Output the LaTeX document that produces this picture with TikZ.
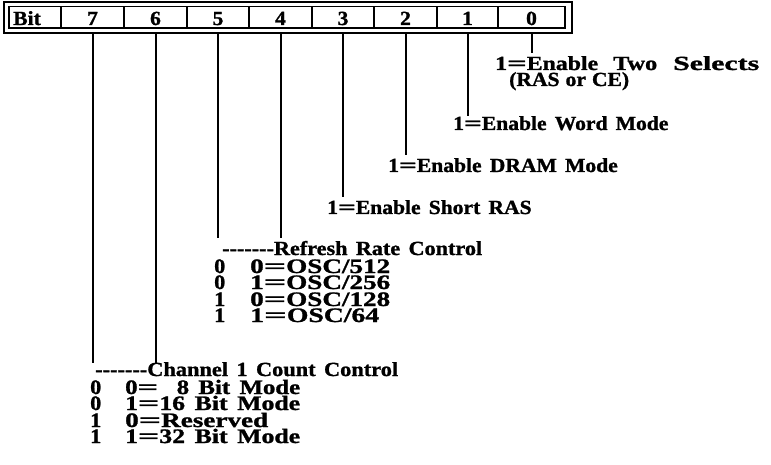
\documentclass[tikz,border=0pt]{standalone}
\usepackage{fontspec}
\usepackage{graphicx}
\setmainfont{Liberation Serif}[FakeStretch=1.08, WordSpace=1.5, Ligatures=TeXOff, FakeBold=1.2]
\newcommand\eqs{\scalebox{1.45}[1]{=}}
\newcommand\wid[2]{\resizebox{#1pt}{\height}{#2}}
\begin{document}
\begin{tikzpicture}[x=1pt,y=-1pt,
  txt/.style={anchor=base west, inner sep=0, font=\fontsize{20}{20}\selectfont\bfseries},
  row/.style={anchor=base west, inner sep=0, font=\fontsize{20.5}{20.5}\selectfont\bfseries},
  cell/.style={draw, line width=1.2, inner sep=0, outer sep=0, anchor=north west,
    minimum height=21.5, text height=18.5, text depth=3,
    font=\fontsize{20}{20}\selectfont\bfseries},
  lead/.style={line width=2}]
\useasboundingbox (0,0) rectangle (771,465);
% frame
\node[draw, line width=1.6, inner sep=0, outer sep=0, anchor=north west,
  minimum width=568, minimum height=31] (frame) at (4,2) {};
\node[cell, minimum width=52] (cb) at (9,6.5) {};
\node[cell, minimum width=63] (c7) at (61,6.5) {7};
\node[cell, minimum width=63] (c6) at (124,6.5) {6};
\node[cell, minimum width=62] (c5) at (187,6.5) {5};
\node[cell, minimum width=63] (c4) at (249,6.5) {4};
\node[cell, minimum width=62] (c3) at (312,6.5) {3};
\node[cell, minimum width=63] (c2) at (374,6.5) {2};
\node[cell, minimum width=61] (c1) at (437,6.5) {1};
\node[cell, minimum width=67] (c0) at (498,6.5) {0};
\node[txt] (bit) at (13,25) {Bit};
% lead ends
\coordinate (e7) at (c7 |- 0,363);
\coordinate (e6) at (c6 |- 0,363);
\coordinate (e5) at (c5 |- 0,238);
\coordinate (e4) at (c4 |- 0,238);
\coordinate (e3) at (c3 |- 0,197);
\coordinate (e2) at (c2 |- 0,155);
\coordinate (e1) at (c1 |- 0,116);
\coordinate (e0) at (c0 |- 0,53);
\foreach \b in {7,6,5,4,3,2,1,0}
  \draw[lead] (c\b |- frame.south) -- (e\b);
% bit 0..3 texts
\node[txt] (t0a) at (495,70) {\wid{103}{1\eqs Enable}\hspace{15pt}\wid{44}{Two}\hspace{16pt}\wid{86}{Selects}};
\node[txt] (t0b) at (509,86) {{\spaceskip=6pt (RAS or CE)}};
\node[txt] (t1) at (453,130) {1\eqs Enable Word Mode};
\node[txt] (t2) at (388,172) {1\eqs Enable DRAM Mode};
\node[txt] (t3) at (327,214) {1\eqs Enable Short RAS};
% refresh
\node[txt] (rh) at (222,255) {\wid{260}{-------Refresh Rate Control}};
\node[row] (ra1) at (214,273) {0};
\node[row] (ra2) at (214,289) {0};
\node[row] (ra3) at (214,306) {1};
\node[row] (ra4) at (214,322) {1};
\node[row] (rb1) at (250,273) {\wid{140}{0\eqs OSC/512}};
\node[row] (rb2) at (250,289) {\wid{140}{1\eqs OSC/256}};
\node[row] (rb3) at (250,306) {\wid{140}{0\eqs OSC/128}};
\node[row] (rb4) at (250,322) {\wid{129}{1\eqs OSC/64}};
% channel
\node[txt] (ch) at (95,376) {\wid{303}{-------Channel 1 Count Control}};
\node[row] (ca1) at (90,394) {0};
\node[row] (ca2) at (90,410) {0};
\node[row] (ca3) at (90,427) {1};
\node[row] (ca4) at (90,443) {1};
\node[row] (cb1) at (125,394) {\wid{175}{0\eqs\ \ 8 Bit Mode}};
\node[row] (cb2) at (125,410) {\wid{175}{1\eqs 16 Bit Mode}};
\node[row] (cb3) at (125,427) {\wid{143}{0\eqs Reserved}};
\node[row] (cb4) at (125,443) {\wid{175}{1\eqs 32 Bit Mode}};
\end{tikzpicture}
\end{document}
